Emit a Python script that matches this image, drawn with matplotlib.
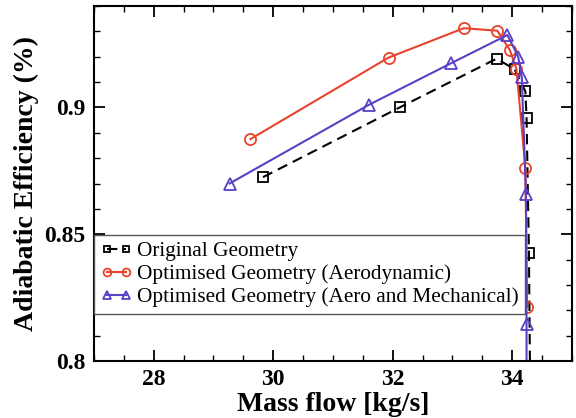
import matplotlib
matplotlib.use('Agg')
import matplotlib.pyplot as plt
from matplotlib.ticker import MultipleLocator

plt.rcParams['font.family'] = 'Liberation Serif'
plt.rcParams['mathtext.fontset'] = 'stix'

# Original Geometry
orig_x = [29.83, 32.12, 33.74, 34.04, 34.22, 34.24, 34.28, 34.30]
orig_y = [0.8725, 0.900, 0.9192, 0.915, 0.9063, 0.896, 0.8426, 0.79]

# Optimised Geometry (Aerodynamic)
aero_x = [29.62, 31.93, 33.19, 33.75, 33.96, 34.07, 34.22, 34.25]
aero_y = [0.8875, 0.9196, 0.9312, 0.9302, 0.9226, 0.9152, 0.8762, 0.8213]

# Optimised Geometry (Aero and Mechanical)
mech_x = [29.27, 31.61, 32.97, 33.92, 34.10, 34.16, 34.23, 34.24, 34.24]
mech_y = [0.870, 0.9011, 0.9173, 0.9285, 0.920, 0.912, 0.866, 0.8147, 0.79]

labels = ['Original Geometry',
          'Optimised Geometry (Aerodynamic)',
          'Optimised Geometry (Aero and Mechanical)']

fig = plt.figure(figsize=(5.76, 4.18), dpi=100)
ax = fig.add_axes([0.163, 0.136, 0.83, 0.85])

ax.plot(orig_x, orig_y, c='k', ls=(0, (5, 3)), lw=1.5, marker='s', ms=7,
        mfc='none', mec='k', mew=1.3, label=labels[0])
ax.plot(aero_x, aero_y, c='#e8432c', lw=1.5, marker='o', ms=8,
        mfc='none', mec='#e8432c', mew=1.3, label=labels[1])
ax.plot(mech_x, mech_y, c='#5b3fc4', lw=1.5, marker='^', ms=8,
        mfc='none', mec='#5b3fc4', mew=1.3, label=labels[2])

ax.set_xlim(27, 35)
ax.set_ylim(0.8, 0.94)
ax.xaxis.set_major_locator(MultipleLocator(2))
ax.xaxis.set_minor_locator(MultipleLocator(0.5))
ax.yaxis.set_major_locator(MultipleLocator(0.05))
ax.yaxis.set_minor_locator(MultipleLocator(0.01))
ax.set_yticks([0.8, 0.85, 0.9])
ax.set_yticklabels(['0.8', '0.85', '0.9'])
ax.tick_params(which='both', direction='in', top=True, right=True)
ax.tick_params(which='major', length=8, width=1.3, labelsize=17, pad=6)
ax.tick_params(which='minor', length=4, width=1.0)
for lab in ax.get_xticklabels() + ax.get_yticklabels():
    lab.set_fontweight('bold')
for s in ax.spines.values():
    s.set_linewidth(1.5)

ax.set_xlabel('Mass flow [kg/s]', fontsize=20, fontweight='bold', labelpad=1)
ax.set_ylabel('Adiabatic Efficiency (%)', fontsize=20, fontweight='bold', labelpad=4)

leg = ax.legend(loc='upper left', bbox_to_anchor=(0.0, 0.355), fontsize=15.3,
                handlelength=1.5, handletextpad=0.25, borderpad=0.3,
                labelspacing=0.15, fancybox=False, framealpha=1,
                borderaxespad=0, numpoints=2, markerscale=0.7)
leg.get_frame().set_edgecolor('#555555')
leg.get_frame().set_linewidth(1.0)

fig.savefig('out.png', dpi=100)
